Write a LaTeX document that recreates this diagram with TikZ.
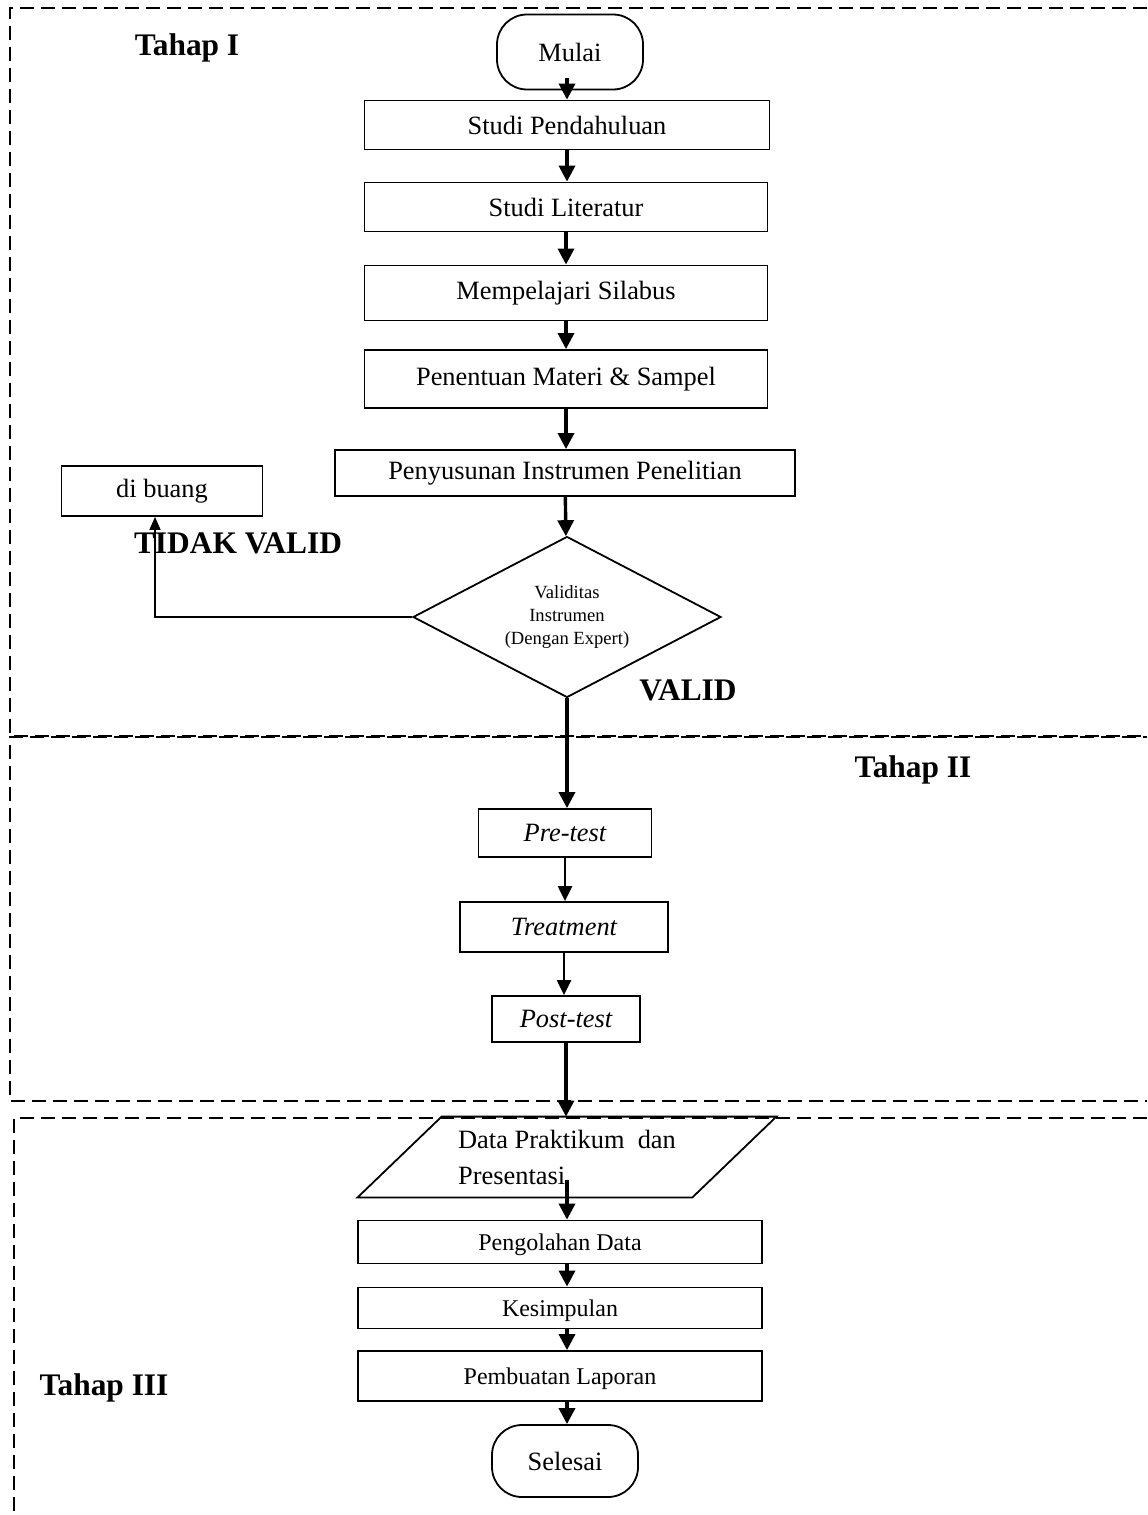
\documentclass[tikz,border=0pt]{standalone}
\usepackage{fontspec}
\setmainfont{Liberation Serif}
\usepackage{tikz}
\usetikzlibrary{shapes.geometric,arrows.meta,positioning}

\begin{document}
\begin{tikzpicture}[x=0.5pt, y=-0.5pt,
  box/.style={draw, line width=0.9pt, inner sep=0pt, font=\fontsize{13.2}{15}\selectfont},
  lowbox/.style={box, text depth=0pt, font=\fontsize{12}{14}\selectfont},
  term/.style={box, rounded corners=15pt},
  tahap/.style={font=\fontsize{15.7}{18}\selectfont\bfseries},
  frame/.style={line width=0.8pt, dash pattern=on 7pt off 3.5pt},
  arr/.style={line width=1.7pt, -{Triangle[width=8pt,length=8pt]}},
  arrthin/.style={line width=1.1pt, -{Triangle[width=7pt,length=7.5pt]}},
  arrsmall/.style={line width=0.8pt, -{Triangle[width=5.5pt,length=6.5pt]}}]
  \useasboundingbox (0,0) rectangle (1147,1515);

  % dashed frames of the three stages
  \draw[frame] (1147,8) -- (10,8) -- (10,736) -- (1147,736);
  \draw[frame, dash phase=5pt] (1147,737) -- (10,737) -- (10,1101) -- (1147,1101);
  \draw[frame] (1147,1118) -- (14,1118) -- (14,1515);

  \node[tahap] (t1) at (187,48) {Tahap I};
  \node[tahap] (t2) at (913,770) {Tahap II};
  \node[tahap] (t3) at (104,1388) {Tahap III};

  % Tahap I
  \node[term, minimum width=73pt, minimum height=37.5pt] (mulai) at (570,52) {Mulai};
  \node[box, minimum width=202.5pt, minimum height=24.5pt] (studi) at (567,125) {Studi Pendahuluan};
  \node[box, minimum width=201.5pt, minimum height=24.5pt] (lit) at (566,207) {Studi Literatur};
  \node[box, minimum width=201.5pt, minimum height=27.5pt] (silabus) at (566,293) {Mempelajari Silabus};
  \node[box, minimum width=201.5pt, minimum height=29pt] (materi) at (566,379) {Penentuan Materi \& Sampel};
  \node[box, minimum width=230pt, minimum height=23pt] (susun) at (565,473) {Penyusunan Instrumen Penelitian};
  \node[draw, diamond, line width=0.9pt, inner sep=0pt, aspect=1.9, minimum width=154pt, minimum height=80.5pt,
        align=center, font=\fontsize{9.3}{11.7}\selectfont] (cek) at (567,617)
        {Validitas\\Instrumen\\(Dengan Expert)};
  \node[box, minimum width=100.5pt, minimum height=25pt] (buang) at (162,491) {di buang};
  \node[tahap] (tidak) at (238,543) {TIDAK VALID};
  \node[tahap] (valid) at (688,690) {VALID};

  \draw[arr] ([xshift=-1.5pt,yshift=6pt]mulai.south) -- (studi.north);
  \draw[arr] (studi) -- (studi |- lit.north);
  \draw[arr] (lit) -- (lit |- silabus.north);
  \draw[arr] (silabus) -- (silabus |- materi.north);
  \draw[arr] (materi) -- (materi |- susun.north);
  \draw[arr] (susun) -- (cek);
  \draw[arrsmall] (cek.west) -| ([xshift=-3.5pt]buang.south);

  % Tahap II
  \node[box, minimum width=86.5pt, minimum height=24pt] (pre) at (565,833) {\itshape Pre-test};
  \node[box, minimum width=104pt, minimum height=25pt] (treat) at (564,927) {\itshape Treatment};
  \node[box, minimum width=74pt, minimum height=23pt] (post) at (566,1019) {\itshape Post-test};

  \draw[arr] (cek) -- (cek |- pre.north);
  \draw[arrthin] (pre) -- (pre |- treat.north);
  \draw[arrthin] (treat) -- (treat |- post.north);

  % Tahap III
  \node[inner sep=0pt, minimum width=167pt, minimum height=40pt, align=left,
        font=\fontsize{13.2}{18}\selectfont] (data) at (567,1157) {Data Praktikum \ dan\\Presentasi};
  \draw[line width=0.9pt] ([xshift=21pt]data.north west) -- ([xshift=21pt]data.north east)
    -- ([xshift=-21pt]data.south east) -- ([xshift=-21pt]data.south west) -- cycle;
  \node[lowbox, minimum width=202pt, minimum height=21.5pt] (olah) at (560,1242) {Pengolahan Data};
  \node[lowbox, minimum width=202pt, minimum height=20.5pt] (simpul) at (560,1308) {Kesimpulan};
  \node[lowbox, minimum width=202pt, minimum height=25pt] (lapor) at (560,1376) {Pembuatan Laporan};
  \node[term, minimum width=73pt, minimum height=36pt] (selesai) at (565,1461) {Selesai};

  \draw[arr] (post) -- (post |- data.north);
  \draw[arr] ([yshift=8.5pt]data.south) -- (data.south |- olah.north);
  \draw[arr] (data.south |- olah.south) -- (data.south |- simpul.north);
  \draw[arr] (data.south |- simpul.south) -- (data.south |- lapor.north);
  \draw[arr] (data.south |- lapor.south) -- (data.south |- selesai.north);
\end{tikzpicture}
\end{document}
